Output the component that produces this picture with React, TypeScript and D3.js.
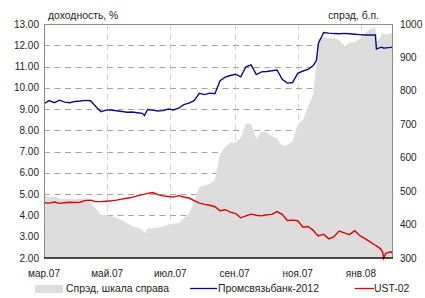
import React from 'react';
import * as d3 from 'd3';

const dates = [
  '2007-03-01','2007-03-06','2007-03-11','2007-03-16','2007-03-21','2007-03-26','2007-03-31','2007-04-05','2007-04-10','2007-04-15',
  '2007-04-20','2007-04-25','2007-04-30','2007-05-05','2007-05-10','2007-05-15','2007-05-20','2007-05-25','2007-05-30','2007-06-04',
  '2007-06-06',
  '2007-06-09','2007-06-14','2007-06-19','2007-06-24','2007-06-29','2007-07-04','2007-07-09','2007-07-14','2007-07-19','2007-07-24',
  '2007-07-29','2007-08-03','2007-08-08','2007-08-13','2007-08-18','2007-08-23','2007-08-28','2007-09-02','2007-09-07','2007-09-12',
  '2007-09-17','2007-09-22','2007-09-27','2007-10-02','2007-10-07','2007-10-12','2007-10-17','2007-10-22','2007-10-27','2007-11-01',
  '2007-11-06','2007-11-11','2007-11-16',
  '2007-11-19',
  '2007-11-21','2007-11-26','2007-12-01','2007-12-06','2007-12-11','2007-12-16','2007-12-21','2007-12-26','2007-12-31','2008-01-05',
  '2008-01-10','2008-01-15',
  '2008-01-16',
  '2008-01-20',
  '2008-01-22','2008-01-23',
  '2008-01-25','2008-01-30','2008-02-01',
];

const psb2012 = [
  9.25, 9.40, 9.30, 9.42, 9.33, 9.30, 9.36, 9.38, 9.41, 9.39,
  9.12, 8.88, 8.95, 8.96, 8.92, 8.89, 8.85, 8.86, 8.83, 8.80,
  8.70,
  8.98, 8.95, 8.91, 8.93, 9.00, 8.96, 9.04, 9.21, 9.28, 9.40,
  9.74, 9.68, 9.75, 9.72, 10.33, 10.50, 10.58, 10.64, 10.52, 10.99,
  11.08, 10.62, 10.75, 10.77, 10.80, 10.84, 10.40, 10.22, 10.25, 10.68,
  10.79, 10.87, 11.05,
  11.28,
  12.10, 12.60, 12.57, 12.55, 12.54, 12.56, 12.54, 12.52, 12.50, 12.48,
  12.48, 12.48,
  11.82,
  11.90,
  11.90, 11.86,
  11.88, 11.90, 11.93,
];

const ust02 = [
  4.60, 4.58, 4.63, 4.57, 4.60, 4.62, 4.61, 4.62, 4.71, 4.72,
  4.65, 4.65, 4.67, 4.69, 4.72, 4.77, 4.81, 4.85, 4.92, 4.98,
  5.00,
  5.04, 5.08, 4.98, 4.92, 4.89, 4.86, 4.93, 4.87, 4.82, 4.70,
  4.58, 4.52, 4.48, 4.41, 4.22, 4.27, 4.16, 4.09, 3.89, 3.98,
  4.06, 4.01, 3.98, 4.03, 4.05, 4.18, 4.05, 3.76, 3.78, 3.75,
  3.45, 3.48, 3.30,
  3.12,
  3.04, 3.12, 2.90, 3.00, 3.27, 3.18, 3.10, 3.28, 3.05, 2.91,
  2.76, 2.60,
  2.57,
  2.43,
  2.28, 1.99,
  2.22, 2.29, 2.22,
];

const spread = [
  490, 482, 485, 478, 476, 477, 475, 479, 475, 466,
  448, 428, 429, 426, 420, 414, 404, 396, 391, 384,
  374,
  389, 389, 391, 394, 400, 403, 405, 420, 432, 468,
  512, 518, 522, 533, 612, 632, 645, 645, 660, 702,
  700, 657, 678, 676, 665, 658, 636, 638, 648, 700,
  713, 752, 790,
  880,
  955, 960, 958, 958, 952, 933, 944, 946, 955, 972,
  985, 992,
  945,
  962,
  972, 974,
  967, 972, 976,
];

const leftTicks = [2, 3, 4, 5, 6, 7, 8, 9, 10, 11, 12, 13];
const rightTicks = [300, 400, 500, 600, 700, 800, 900, 1000];
const xTickDates = ['2007-03-01', '2007-05-01', '2007-07-01', '2007-09-01', '2007-11-01', '2008-01-01'];
const xTickLabels = ['мар.07', 'май.07', 'июл.07', 'сен.07', 'ноя.07', 'янв.08'];

const FONT = 'Liberation Sans, Arial, sans-serif';

export default function App() {
  const W = 425, H = 298;
  const L = 44, R = 393, T = 24, B = 258;
  const parse = d3.timeParse('%Y-%m-%d');
  const ds = dates.map((d) => parse(d) as Date);
  const x = d3.scaleTime().domain([parse('2007-03-01') as Date, parse('2008-02-01') as Date]).range([L, R]);
  const yL = d3.scaleLinear().domain([2, 13]).range([B, T]);
  const yR = d3.scaleLinear().domain([300, 1000]).range([B, T]);

  const area = d3.area<number>().x((_, i) => x(ds[i])).y0(B).y1((v) => yR(v));
  const lineL = d3.line<number>().x((_, i) => x(ds[i])).y((v) => yL(v));

  const fa = 10;
  const fs = 10.4;
  return (
    <svg width={W} height={H} style={{ position: 'absolute', left: 0, top: 0, background: '#fff' }} fontFamily={FONT}>
      {xTickDates.slice(1).map((d) => {
        const xx = Math.round(x(parse(d) as Date)) + 0.5;
        return <line key={d} x1={xx} x2={xx} y1={T} y2={B} stroke="#d4d4d4" strokeDasharray="6,4" strokeWidth={1} />;
      })}
      {leftTicks.slice(1, -1).map((t) => {
        const yy = Math.round(yL(t)) + 0.5;
        return <line key={t} x1={L} x2={R} y1={yy} y2={yy} stroke="#a6a6a6" strokeDasharray="6,4.5" strokeWidth={1} />;
      })}
      <path d={area(spread) || ''} fill="#dddddd" />
      <path d={lineL(ust02) || ''} fill="none" stroke="#e00000" strokeWidth={1.4} />
      <path d={lineL(psb2012) || ''} fill="none" stroke="#0a0a8a" strokeWidth={1.4} />
      <line x1={L} x2={R} y1={T + 0.5} y2={T + 0.5} stroke="#8c8c8c" />
      <line x1={R - 0.5} x2={R - 0.5} y1={T} y2={B} stroke="#8c8c8c" />
      <line x1={L + 0.5} x2={L + 0.5} y1={T} y2={B} stroke="#8c8c8c" />
      <line x1={L} x2={R} y1={B} y2={B} stroke="#111" strokeWidth={1.5} />
      {leftTicks.map((t) => (
        <text key={t} x={39} y={yL(t)} dy="0.35em" textAnchor="end" fontSize={fa} fill="#222">
          {t.toFixed(2)}
        </text>
      ))}
      {rightTicks.map((t) => (
        <text key={t} x={400} y={yR(t)} dy="0.35em" textAnchor="start" fontSize={fa} fill="#222">
          {t}
        </text>
      ))}
      {xTickDates.map((d, i) => (
        <text key={d} x={x(parse(d) as Date)} y={277} textAnchor="middle" fontSize={fa} fill="#222">
          {xTickLabels[i]}
        </text>
      ))}
      <text x={48} y={19} fontSize={fs} fill="#222">доходность, %</text>
      <text x={379} y={19} textAnchor="end" fontSize={fs} fill="#222">спрэд, б.п.</text>
      <rect x={35} y={285} width={28} height={8} fill="#dddddd" />
      <text x={66} y={292} fontSize={fs} fill="#222">Спрэд, шкала справа</text>
      <line x1={190} x2={217} y1={288.5} y2={288.5} stroke="#0a0a8a" strokeWidth={1.3} />
      <text x={218} y={292} fontSize={fs} fill="#222">Промсвязьбанк-2012</text>
      <line x1={355} x2={374} y1={288.5} y2={288.5} stroke="#e00000" strokeWidth={1.3} />
      <text x={374} y={292} fontSize={fs} fill="#222">UST-02</text>
    </svg>
  );
}
